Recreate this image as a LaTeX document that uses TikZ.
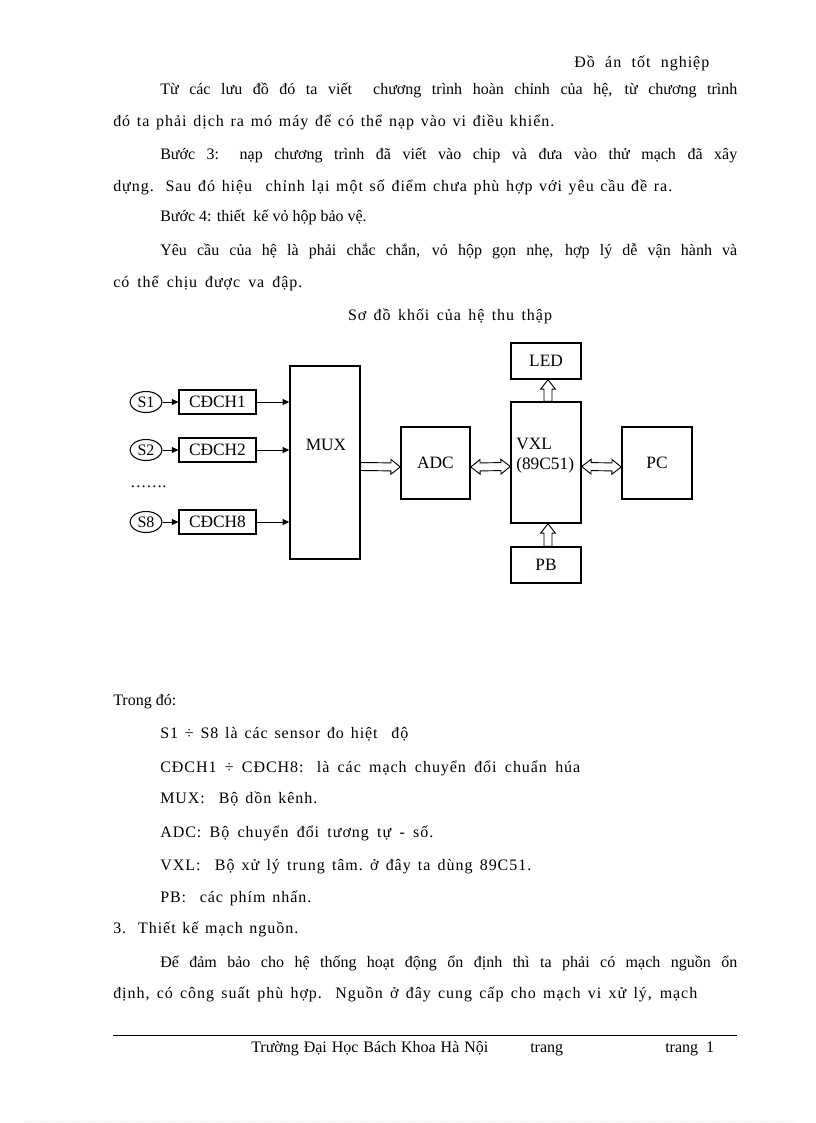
\documentclass[tikz,border=0pt]{standalone}
\usepackage{fontspec}
\setmainfont{Liberation Serif}
\newfontfamily\wideserif[LetterSpace=6]{Liberation Serif}
\usetikzlibrary{arrows.meta,calc,shapes.geometric}

\tikzset{
  txt/.style={anchor=base west, inner sep=0pt, font=\fontsize{12}{14}\selectfont},
  wtxt/.style={txt, font=\fontsize{12}{14}\wideserif},
  blk/.style={draw, line width=1.1pt, inner sep=0pt, minimum width=52.5pt, font=\fontsize{13}{15}\selectfont},
  chbox/.style={draw, line width=0.8pt, inner sep=0pt, minimum width=57.75pt, minimum height=18pt, font=\fontsize{13}{15}\selectfont},
  sensor/.style={draw, ellipse, line width=0.8pt, inner sep=0pt, minimum width=24pt, minimum height=15.75pt, font=\fontsize{12}{14}\selectfont},
  thinarr/.style={line width=0.75pt, -{Triangle[length=5pt,width=4.5pt]}},
  % mui ten rong (mot dau)
  hol/.style={line width=0.7pt, to path={
      let \p1=($(\tikztotarget)!7pt!(\tikztostart)$) in
      ($(\tikztostart)!3pt!90:(\tikztotarget)$)
      -- ($(\p1)!3pt!-90:(\tikztostart)$)
      -- ($(\p1)!5.5pt!-90:(\tikztostart)$)
      -- (\tikztotarget)
      -- ($(\p1)!5.5pt!90:(\tikztostart)$)
      -- ($(\p1)!3pt!90:(\tikztostart)$)
      -- ($(\tikztostart)!3pt!-90:(\tikztotarget)$)
      -- cycle}},
  % mui ten rong (hai dau)
  hol2/.style={line width=0.7pt, to path={
      let \p1=($(\tikztotarget)!7pt!(\tikztostart)$),
          \p2=($(\tikztostart)!7pt!(\tikztotarget)$) in
      ($(\p2)!3pt!90:(\tikztotarget)$)
      -- ($(\p1)!3pt!-90:(\tikztostart)$)
      -- ($(\p1)!5.5pt!-90:(\tikztostart)$)
      -- (\tikztotarget)
      -- ($(\p1)!5.5pt!90:(\tikztostart)$)
      -- ($(\p1)!3pt!90:(\tikztostart)$)
      -- ($(\p2)!3pt!-90:(\tikztotarget)$)
      -- ($(\p2)!5.5pt!-90:(\tikztotarget)$)
      -- (\tikztostart)
      -- ($(\p2)!5.5pt!90:(\tikztotarget)$)
      -- cycle}}
}
% dong chu gian ra den do rong cho truoc
\newcommand{\spread}[2]{\makebox[#1][s]{#2}}

\begin{document}
\begin{tikzpicture}[x=0.75pt,y=-0.75pt]
  \useasboundingbox (0,0) rectangle (816,1123);

  % Dau trang
  \node[wtxt] (hdr) at (574,68) {\spread{101.25pt}{Đồ án tốt nghiệp}};

  % Doan van phia tren
  \node[txt] (l1) at (160,95) {\spread{432.75pt}{Từ các lưu đồ đó ta viết\ \ chương trình hoàn chỉnh của hệ, từ chương trình}};
  \node[wtxt] (l2) at (113,127) {\spread{330.75pt}{đó ta phải dịch ra mó máy để có thể nạp vào vi điều khiển.}};
  \node[txt] (l3) at (160,160) {\spread{432.75pt}{Bước 3: nạp chương trình đã viết vào chip và đưa vào thử mạch đã xây}};
  \node[wtxt] (l4) at (113,192) {\spread{419.25pt}{dựng. Sau đó hiệu\ \ chỉnh lại một số điểm chưa phù hợp với yêu cầu đề ra.}};
  \node[txt] (l5) at (160,222) {Bước 4: thiết\ \ kế vỏ hộp bảo vệ.};
  \node[txt] (l6) at (160,255) {\spread{432.75pt}{Yêu cầu của hệ là phải chắc chắn, vỏ hộp gọn nhẹ, hợp lý dễ vận hành và}};
  \node[wtxt] (l7) at (113,287) {\spread{141.75pt}{có thể chịu được va đập.}};
  \node[wtxt, anchor=base] (cap) at (450,320) {\spread{153pt}{Sơ đồ khối của hệ thu thập}};

  % Cam bien va mach chuan hoa
  \node[sensor] (s1) at (146,402) {S1};
  \node[sensor] (s2) at (146,450) {S2};
  \node[sensor] (s8) at (146,522) {S8};
  \node[chbox] (c1) at (217.5,402) {CĐCH1};
  \node[chbox] (c2) at (217.5,450) {CĐCH2};
  \node[chbox] (c8) at (217.5,522) {CĐCH8};
  \node[txt] (dots) at (130,487) {…….};

  % Cac khoi chinh
  \node[blk, minimum height=144.75pt] (mux) at (325,462.5) {};
  \node[font=\fontsize{13}{15}\selectfont, inner sep=0pt] (muxt) at (326,445) {MUX};
  \node[blk, minimum width=51.75pt, minimum height=54pt] (adc) at (435.5,463) {ADC};
  \node[blk, minimum height=90.75pt] (vxl) at (546,462.5) {};
  \node[font=\fontsize{13}{15}\selectfont, inner sep=0pt, align=left, anchor=west] (vxlt) at (516,456) {VXL\\(89C51)};
  \node[blk, minimum height=54pt] (pc) at (657,463) {PC};
  \node[blk, minimum height=27pt] (led) at (546,361) {LED};
  \node[blk, minimum height=27pt] (pb) at (546,565) {PB};

  % Mui ten nho
  \draw[thinarr] (s1) -- (c1);
  \draw[thinarr] (s2) -- (c2);
  \draw[thinarr] (s8) -- (c8);
  \draw[thinarr] (c1.east) -- (c1.east -| mux.west);
  \draw[thinarr] (c2.east) -- (c2.east -| mux.west);
  \draw[thinarr] (c8.east) -- (c8.east -| mux.west);

  % Mui ten rong
  \draw[hol] ([yshift=-3pt]mux.east) to ([yshift=-3pt]adc.west);
  \draw[hol2] ([yshift=-3pt]adc.east) to ([yshift=-3pt]vxl.west);
  \draw[hol2] ([yshift=-3pt]vxl.east) to ([yshift=-3pt]pc.west);
  \draw[hol] ([xshift=1.5pt]vxl.north) to ([xshift=1.5pt]led.south);
  \draw[hol] ([xshift=1.5pt]pb.north) to ([xshift=1.5pt]vxl.south);

  % Doan van phia duoi
  \node[txt] (t0) at (113,705) {Trong đó:};
  \node[wtxt] (t1) at (160,738) {\spread{186pt}{S1 ÷ S8 là\ các sensor đo hiệt\ \ độ}};
  \node[wtxt] (t2) at (160,772) {\spread{315pt}{CĐCH1 ÷ CĐCH8: là\ các mạch chuyển\ đổi chuẩn húa}};
  \node[wtxt] (t3) at (160,803) {\spread{117.75pt}{MUX:\ \ Bộ dồn kênh.}};
  \node[wtxt] (t4) at (160,837) {\spread{204.75pt}{ADC:\ Bộ chuyển\ đổi tương tự - số.}};
  \node[wtxt] (t5) at (160,870) {\spread{278.25pt}{VXL:\ \ Bộ xử lý trung tâm.\ ở đây ta dùng 89C51.}};
  \node[wtxt] (t6) at (160,902) {\spread{113.25pt}{PB:\ \ các phím nhấn.}};
  \node[wtxt] (t7) at (113,933) {\spread{138.75pt}{3. Thiết kế mạch nguồn.}};
  \node[txt] (t8) at (160,967) {\spread{432.75pt}{Để đảm bảo cho hệ thống hoạt động ổn định thì ta phải có mạch nguồn ổn}};
  \node[wtxt] (t9) at (113,998) {\spread{438pt}{định,\ có công suất phù hợp. Nguồn ở đây cung cấp cho mạch vi xử lý, mạch}};

  % Chan trang
  \draw[line width=0.6pt] (113,1035) -- (737,1035);
  \node[txt] (ft1) at (251,1052) {\spread{177.75pt}{Trường Đại Học Bách Khoa Hà Nội}};
  \node[txt] (ft2) at (530,1052) {trang};
  \node[txt] (ft3) at (665,1052) {trang\ \ 1};
  \draw[gray!25, dotted] (25,1121) -- (795,1121);
\end{tikzpicture}
\end{document}
